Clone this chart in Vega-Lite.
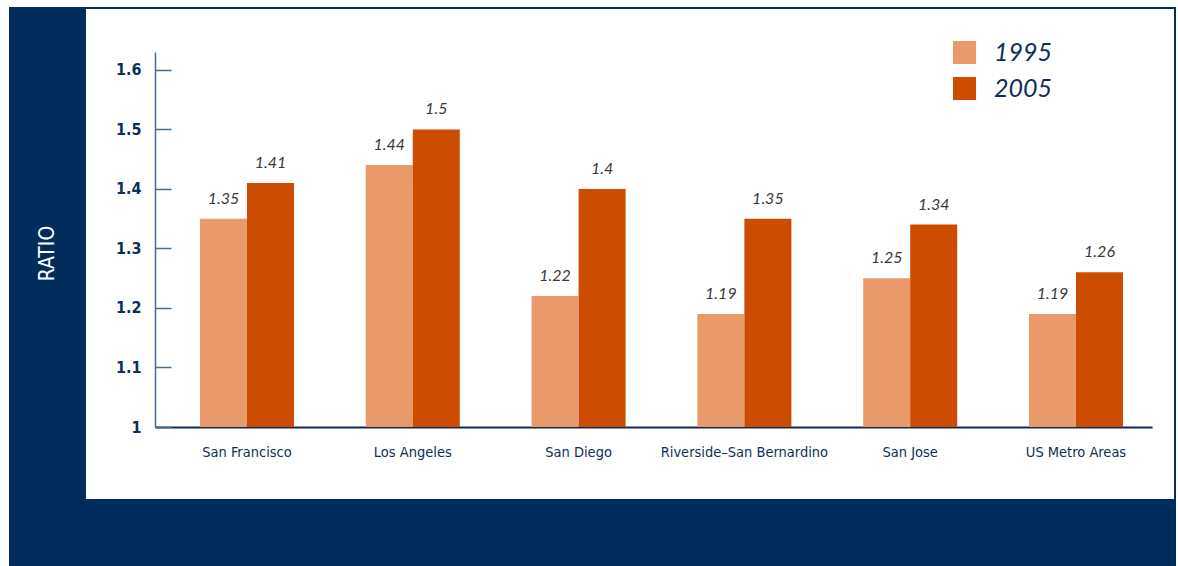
{
  "$schema": "https://vega.github.io/schema/vega-lite/v6.json",
  "background": "white",
  "padding": {"left": 9, "top": 7, "right": 2, "bottom": 0},
  "autosize": {"type": "pad"},
  "config": {"view": {"stroke": null}, "text": {"fontSize": 1}},
  "datasets": {
    "bars": [
      {"city": "San Francisco", "year": "1995", "value": 1.35},
      {"city": "San Francisco", "year": "2005", "value": 1.41},
      {"city": "Los Angeles", "year": "1995", "value": 1.44},
      {"city": "Los Angeles", "year": "2005", "value": 1.5},
      {"city": "San Diego", "year": "1995", "value": 1.22},
      {"city": "San Diego", "year": "2005", "value": 1.4},
      {"city": "Riverside–San Bernardino", "year": "1995", "value": 1.19},
      {"city": "Riverside–San Bernardino", "year": "2005", "value": 1.35},
      {"city": "San Jose", "year": "1995", "value": 1.25},
      {"city": "San Jose", "year": "2005", "value": 1.34},
      {"city": "US Metro Areas", "year": "1995", "value": 1.19},
      {"city": "US Metro Areas", "year": "2005", "value": 1.26}
    ],
    "blank": [{"t": ""}],
    "ylabel": [{"t": "RATIO"}]
  },
  "columns": 5,
  "spacing": 0,
  "bounds": "flush",
  "align": "each",
  "concat": [
    {"width": 77, "height": 2, "data": {"name": "blank"}, "mark": "text", "encoding": {"text": {"field": "t"}}, "view": {"fill": "#002D5C", "stroke": null}},
    {"width": 69, "height": 2, "data": {"name": "blank"}, "mark": "text", "encoding": {"text": {"field": "t"}}, "view": {"fill": "#002D5C", "stroke": null}},
    {"width": 997, "height": 2, "data": {"name": "blank"}, "mark": "text", "encoding": {"text": {"field": "t"}}, "view": {"fill": "#002D5C", "stroke": null}},
    {"width": 22, "height": 2, "data": {"name": "blank"}, "mark": "text", "encoding": {"text": {"field": "t"}}, "view": {"fill": "#002D5C", "stroke": null}},
    {"width": 2, "height": 2, "data": {"name": "blank"}, "mark": "text", "encoding": {"text": {"field": "t"}}, "view": {"fill": "#002D5C", "stroke": null}},

    {"width": 77, "height": 43, "data": {"name": "blank"}, "mark": "text", "encoding": {"text": {"field": "t"}}, "view": {"fill": "#002D5C", "stroke": null}},
    {"width": 69, "height": 43, "data": {"name": "blank"}, "mark": "text", "encoding": {"text": {"field": "t"}}, "view": {"fill": null, "stroke": null}},
    {"width": 997, "height": 43, "data": {"name": "blank"}, "mark": "text", "encoding": {"text": {"field": "t"}}, "view": {"fill": null, "stroke": null}},
    {"width": 22, "height": 43, "data": {"name": "blank"}, "mark": "text", "encoding": {"text": {"field": "t"}}, "view": {"fill": null, "stroke": null}},
    {"width": 2, "height": 43, "data": {"name": "blank"}, "mark": "text", "encoding": {"text": {"field": "t"}}, "view": {"fill": "#002D5C", "stroke": null}},

    {
      "width": 77, "height": 375,
      "data": {"name": "ylabel"},
      "mark": {"type": "text", "angle": 270, "color": "white", "font": "DejaVu Sans Condensed, Liberation Sans Narrow, Roboto, sans-serif", "fontSize": 21, "align": "center", "baseline": "middle", "dx": -14},
      "encoding": {"text": {"field": "t"}},
      "view": {"fill": "#002D5C", "stroke": null}
    },
    {"width": 69, "height": 375, "data": {"name": "blank"}, "mark": "text", "encoding": {"text": {"field": "t"}}, "view": {"fill": null, "stroke": null}},
    {
      "width": 997, "height": 375,
      "data": {"name": "bars"},
      "view": {"fill": null, "stroke": null},
      "encoding": {
        "x": {
          "field": "city", "type": "nominal", "sort": null,
          "scale": {"paddingInner": 0.433, "paddingOuter": 0.223, "align": 0.608},
          "axis": {"title": null, "ticks": false, "tickSize": 0, "labelAngle": 0, "labelFont": "DejaVu Sans Condensed, Liberation Sans Narrow, Roboto, sans-serif", "labelFontSize": 14.5, "labelColor": "#0E2F5A", "labelBaseline": "alphabetic", "labelPadding": 29, "domainColor": "#0D2A55", "domainWidth": 2}
        },
        "xOffset": {"field": "year", "type": "nominal", "scale": {"paddingInner": 0, "paddingOuter": 0}},
        "y": {
          "field": "value", "type": "quantitative",
          "scale": {"domain": [1, 1.63], "nice": false, "zero": false},
          "axis": {"title": null, "values": [1, 1.1, 1.2, 1.3, 1.4, 1.5, 1.6], "format": "~g", "grid": false, "tickSize": -16, "tickColor": "#4A6A95", "tickWidth": 1.5, "domainColor": "#4A6A95", "domainWidth": 1.5, "labelPadding": 30, "labelFont": "DejaVu Sans Condensed, Liberation Sans Narrow, Roboto, sans-serif", "labelFontSize": 16, "labelFontWeight": "bold", "labelColor": "#0E2F5A", "labelBaseline": "middle"}
        }
      },
      "layer": [
        {
          "mark": {"type": "bar"},
          "encoding": {
            "y2": {"datum": 1},
            "color": {
              "field": "year", "type": "nominal",
              "scale": {"domain": ["1995", "2005"], "range": ["#EA996B", "#CC4C02"]},
              "legend": {"title": null, "orient": "none", "legendX": 943, "legendY": 33, "padding": 0, "symbolType": "square", "symbolSize": 529, "symbolStrokeWidth": 0, "labelFont": "Lato", "labelFontStyle": "italic", "labelFontSize": 25, "labelColor": "#0E2F5A", "labelOffset": 17, "rowPadding": 10}
            }
          }
        },
        {
          "mark": {"type": "text", "font": "Lato", "fontStyle": "italic", "fontSize": 16, "color": "#3A3A3A", "baseline": "bottom", "dy": -12},
          "encoding": {"text": {"field": "value", "type": "quantitative", "format": "~g"}}
        }
      ]
    },
    {"width": 22, "height": 375, "data": {"name": "blank"}, "mark": "text", "encoding": {"text": {"field": "t"}}, "view": {"fill": null, "stroke": null}},
    {"width": 2, "height": 375, "data": {"name": "blank"}, "mark": "text", "encoding": {"text": {"field": "t"}}, "view": {"fill": "#002D5C", "stroke": null}},

    {"width": 77, "height": 72, "data": {"name": "blank"}, "mark": "text", "encoding": {"text": {"field": "t"}}, "view": {"fill": "#002D5C", "stroke": null}},
    {"width": 69, "height": 72, "data": {"name": "blank"}, "mark": "text", "encoding": {"text": {"field": "t"}}, "view": {"fill": null, "stroke": null}},
    {"width": 997, "height": 72, "data": {"name": "blank"}, "mark": "text", "encoding": {"text": {"field": "t"}}, "view": {"fill": null, "stroke": null}},
    {"width": 22, "height": 72, "data": {"name": "blank"}, "mark": "text", "encoding": {"text": {"field": "t"}}, "view": {"fill": null, "stroke": null}},
    {"width": 2, "height": 72, "data": {"name": "blank"}, "mark": "text", "encoding": {"text": {"field": "t"}}, "view": {"fill": "#002D5C", "stroke": null}},

    {"width": 77, "height": 67, "data": {"name": "blank"}, "mark": "text", "encoding": {"text": {"field": "t"}}, "view": {"fill": "#002D5C", "stroke": null}},
    {"width": 69, "height": 67, "data": {"name": "blank"}, "mark": "text", "encoding": {"text": {"field": "t"}}, "view": {"fill": "#002D5C", "stroke": null}},
    {"width": 997, "height": 67, "data": {"name": "blank"}, "mark": "text", "encoding": {"text": {"field": "t"}}, "view": {"fill": "#002D5C", "stroke": null}},
    {"width": 22, "height": 67, "data": {"name": "blank"}, "mark": "text", "encoding": {"text": {"field": "t"}}, "view": {"fill": "#002D5C", "stroke": null}},
    {"width": 2, "height": 67, "data": {"name": "blank"}, "mark": "text", "encoding": {"text": {"field": "t"}}, "view": {"fill": "#002D5C", "stroke": null}}
  ]
}
